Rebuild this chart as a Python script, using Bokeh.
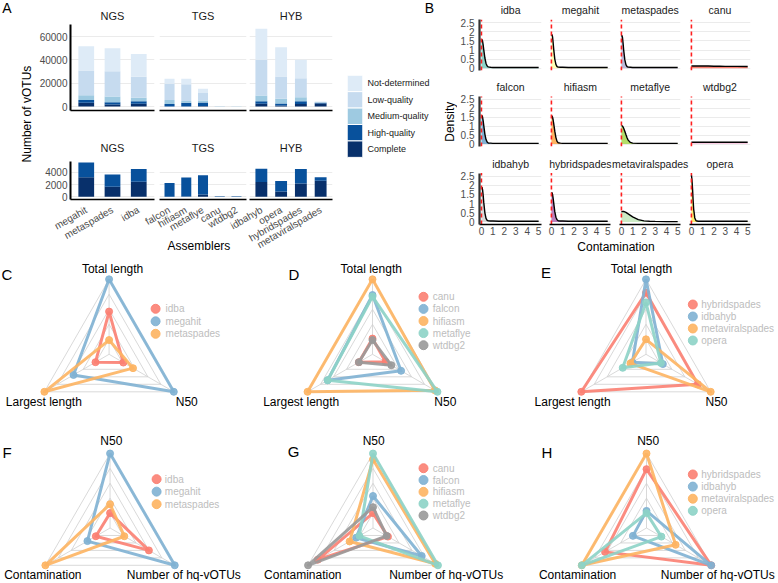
import math
from bokeh.plotting import figure
from bokeh.layouts import row, column
from bokeh.models import Range1d, LinearAxis, FixedTicker, ColumnDataSource, Grid
from bokeh.core.properties import value
from bokeh.embed import file_html
from bokeh.resources import INLINE

FONT = "Liberation Sans"

# ---------------- Panel A data ----------------
assemblers_A = ["megahit", "metaspades", "idba",
                "falcon", "hifiasm", "metaflye", "canu", "wtdbg2",
                "idbahyb", "opera", "hybridspades", "metaviralspades"]
groups_A = ["NGS"] * 3 + ["TGS"] * 5 + ["HYB"] * 4
group_order = ["NGS", "TGS", "HYB"]
complete = [3200, 1650, 2450, 30, 60, 370, 10, 10, 2400, 850, 2180, 2600]
high = [2400, 1970, 2080, 2210, 3080, 3150, 90, 90, 2180, 1710, 2350, 600]
medium = [4100, 4980, 2870, 3300, 1500, 1600, 60, 50, 4820, 4040, 3470, 400]
low = [21200, 21700, 18000, 14000, 14500, 6400, 200, 150, 30600, 19100, 16300, 300]
not_determined = [20800, 19700, 19700, 4200, 4560, 3600, 150, 100, 26600, 25100, 15700, 400]
quality_labels = ["Complete", "High-quality", "Medium-quality", "Low-quality", "Not-determined"]
quality_colors = ["#08306B", "#08519C", "#9ECAE1", "#C6DBEF", "#DEEBF7"]
ticks_A_top = [0, 20000, 40000, 60000]
ticks_A_bot = [0, 2000, 4000]

# ---------------- Panel B data ----------------
dens_x = [0, 0.05, 0.1, 0.15, 0.2, 0.3, 0.4, 0.5, 0.6, 0.8, 1.0, 1.5, 2.0, 2.5, 3.0, 4.0, 5.0]
dens_idba = [1.52, 1.58, 1.48, 1.28, 1.02, 0.56, 0.26, 0.12, 0.07, 0.05, 0.04, 0.04, 0.04, 0.04, 0.04, 0.04, 0.04]
dens_megahit = [1.78, 1.85, 1.72, 1.42, 1.06, 0.50, 0.21, 0.09, 0.06, 0.05, 0.05, 0.04, 0.04, 0.04, 0.04, 0.04, 0.04]
dens_metaspades = [1.74, 1.80, 1.66, 1.36, 1.00, 0.47, 0.20, 0.09, 0.06, 0.05, 0.04, 0.04, 0.04, 0.04, 0.04, 0.04, 0.04]
dens_canu = [0.12, 0.12, 0.12, 0.12, 0.12, 0.12, 0.12, 0.12, 0.12, 0.12, 0.12, 0.12, 0.11, 0.11, 0.10, 0.10, 0.09]
dens_falcon = [1.58, 1.60, 1.50, 1.30, 1.05, 0.56, 0.25, 0.11, 0.06, 0.05, 0.04, 0.04, 0.04, 0.04, 0.04, 0.04, 0.04]
dens_hifiasm = [1.52, 1.58, 1.50, 1.36, 1.16, 0.72, 0.36, 0.15, 0.07, 0.05, 0.04, 0.04, 0.04, 0.04, 0.04, 0.04, 0.04]
dens_metaflye = [1.02, 1.03, 1.00, 0.95, 0.88, 0.72, 0.53, 0.35, 0.22, 0.09, 0.05, 0.04, 0.04, 0.04, 0.04, 0.04, 0.04]
dens_wtdbg2 = [0.10, 0.10, 0.10, 0.10, 0.10, 0.10, 0.10, 0.10, 0.10, 0.10, 0.10, 0.10, 0.10, 0.10, 0.10, 0.10, 0.10]
dens_idbahyb = [1.84, 1.90, 1.75, 1.45, 1.08, 0.50, 0.20, 0.09, 0.06, 0.05, 0.05, 0.04, 0.04, 0.04, 0.04, 0.04, 0.04]
dens_hybridspades = [1.56, 1.60, 1.50, 1.30, 1.05, 0.56, 0.26, 0.12, 0.07, 0.05, 0.05, 0.04, 0.04, 0.04, 0.04, 0.04, 0.04]
dens_metaviralspades = [0.55, 0.56, 0.57, 0.57, 0.57, 0.55, 0.52, 0.48, 0.44, 0.36, 0.28, 0.13, 0.06, 0.04, 0.03, 0.02, 0.02]
dens_opera = [2.55, 2.30, 1.80, 1.20, 0.70, 0.22, 0.08, 0.05, 0.04, 0.04, 0.04, 0.04, 0.04, 0.04, 0.04, 0.04, 0.04]
B_assemblers = ["idba", "megahit", "metaspades", "canu", "falcon", "hifiasm", "metaflye", "wtdbg2",
                "idbahyb", "hybridspades", "metaviralspades", "opera"]
B_density = [dens_idba, dens_megahit, dens_metaspades, dens_canu, dens_falcon, dens_hifiasm,
             dens_metaflye, dens_wtdbg2, dens_idbahyb, dens_hybridspades, dens_metaviralspades, dens_opera]
B_fill = ["#8DD3C7", "#FFFFB3", "#BEBADA", "#FB8072", "#80B1D3", "#FDB462",
          "#B3DE69", "#FCCDE5", "#D9D9D9", "#BC80BD", "#CCEBC5", "#FFED6F"]
contam_threshold = 0.0
B_yticks = [0, 0.5, 1.0, 1.5, 2.0, 2.5]
B_xticks = [0, 1, 2, 3, 4, 5]

# ---------------- Radar data ----------------
len_axes = ["Total length", "N50", "Largest length"]
qual_axes = ["N50", "Number of hq-vOTUs", "Contamination"]
ngs_names = ["idba", "megahit", "metaspades"]
tgs_names = ["canu", "falcon", "hifiasm", "metaflye", "wtdbg2"]
hyb_names = ["hybridspades", "idbahyb", "metaviralspades", "opera"]
C_vals = [[0.57, 0.22, 0.21], [1.00, 1.00, 0.55], [0.19, 0.37, 1.00]]
D_vals = [[0.21, 0.20, 0.21], [0.79, 0.44, 0.69], [1.00, 0.96, 1.00], [0.77, 1.00, 0.69], [0.19, 0.29, 0.21]]
E_vals = [[0.82, 0.80, 1.00], [1.00, 0.26, 0.21], [0.20, 1.00, 0.24], [0.69, 0.23, 0.36]]
F_vals = [[0.20, 0.60, 0.22], [1.00, 1.00, 0.35], [0.32, 0.22, 1.00]]
G_vals = [[0.20, 0.23, 0.85], [0.43, 0.75, 0.26], [0.92, 0.96, 0.36], [1.00, 1.00, 0.21], [0.28, 0.21, 1.00]]
H_vals = [[0.79, 1.00, 0.64], [0.23, 1.00, 0.21], [1.00, 0.45, 1.00], [0.20, 0.23, 1.00]]
radar_colors = ["#FB8072", "#80B1D3", "#FDB462", "#8DD3C7", "#999999"]
grid_levels = [0.2, 0.4, 0.6, 0.8, 1.0]

# ---------------- layout helpers (reference pixel space -> page) ----------------
SX = 776 / 778
SY = 581 / 583


def W(a, b):
    return int(round(b * SX) - round(a * SX))


def H(a, b):
    return int(round(b * SY) - round(a * SY))


def mkfig(x0, x1, y0, y1, fx0, fx1, fy0, fy1, xr, yr):
    p = figure(width=W(x0, x1), height=H(y0, y1), x_range=xr, y_range=yr, title=None,
               output_backend="svg", toolbar_location=None,
               x_axis_location=None, y_axis_location=None,
               min_border_left=W(x0, fx0), min_border_right=W(fx1, x1),
               min_border_top=H(y0, fy0), min_border_bottom=H(fy1, y1))
    p.outline_line_color = None
    p.grid.visible = False
    p.background_fill_color = "white"
    p.border_fill_color = "white"
    return p


def strip(x0, x1, y0, y1):
    return mkfig(x0, x1, y0, y1, x0, x1, y0, y1, Range1d(x0, x1), Range1d(y1, y0))


def txt(p, x, y, s, size, color="#000000", align="center", baseline="middle", angle=0.0):
    p.text(x=[x], y=[y], text=[s], text_font=value(FONT), text_font_size=value(f"{size}px"),
           text_color=color, text_align=align, text_baseline=baseline, angle=angle)


def add_grid(p, ticks):
    p.add_layout(Grid(dimension=1, ticker=FixedTicker(ticks=ticks),
                      grid_line_color="#EBEBEB", grid_line_width=1), "center")


def left_axis(p, ticks, bounds, standoff=3, color="#000000", width=2):
    ax = LinearAxis(ticker=FixedTicker(ticks=ticks), bounds=bounds,
                    major_tick_out=0, major_tick_in=0, minor_tick_out=0, minor_tick_in=0,
                    major_label_standoff=standoff, major_label_text_font_size="10px",
                    major_label_text_color="#4D4D4D", major_label_text_font=FONT,
                    axis_line_color=color, axis_line_width=width)
    p.add_layout(ax, "left")


def bottom_line(p, width=1.6):
    ax = LinearAxis(ticker=FixedTicker(ticks=[]),
                    major_tick_out=0, major_tick_in=0, minor_tick_out=0, minor_tick_in=0,
                    major_label_standoff=0, major_label_text_font_size="0px",
                    axis_line_color="#000000", axis_line_width=width)
    p.add_layout(ax, "below")


# ---------------- Panel A ----------------
def ya_top(py):
    return (106.0 - py) * 60000 / 70.0


def ya_bot(py):
    return (197.3 - py) * 4000 / 25.0


A_geo = {"NGS": (33, 156, 70, 154), "TGS": (156, 248.5, 159, 247), "HYB": (248.5, 337, 250, 333.3)}
A_upper, A_lower = [], []
xlab = strip(33, 337, 204, 254)
for gi, g in enumerate(group_order):
    x0, x1, fx0, fx1 = A_geo[g]
    idx = [i for i, gg in enumerate(groups_A) if gg == g]
    n = len(idx)
    xs = list(range(1, n + 1))
    lo, hi = 0.4, n + 0.6
    data = dict(x=xs,
                c=[complete[i] for i in idx], h=[high[i] for i in idx], m=[medium[i] for i in idx],
                l=[low[i] for i in idx], nd=[not_determined[i] for i in idx])
    pu = mkfig(x0, x1, 0, 125, fx0, fx1, 5, 110, Range1d(lo, hi), Range1d(ya_top(110), ya_top(5)))
    add_grid(pu, ticks_A_top)
    pu.vbar_stack(["c", "h", "m", "l", "nd"], x="x", width=0.6, color=quality_colors,
                  source=ColumnDataSource(data), line_color=None)
    txt(pu, (lo + hi) / 2, ya_top(15), g, 11, "#1A1A1A")
    bottom_line(pu)
    if gi == 0:
        left_axis(pu, ticks_A_top, (ya_top(110), ya_top(24)))
    A_upper.append(pu)
    pl = mkfig(x0, x1, 125, 204, fx0, fx1, 140, 200, Range1d(lo, hi), Range1d(ya_bot(200), ya_bot(140)))
    add_grid(pl, ticks_A_bot)
    pl.vbar_stack(["c", "h"], x="x", width=0.6, color=quality_colors[:2],
                  source=ColumnDataSource(dict(x=xs, c=data["c"], h=data["h"])), line_color=None)
    txt(pl, (lo + hi) / 2, ya_bot(148), g, 11, "#1A1A1A")
    bottom_line(pl)
    if gi == 0:
        left_axis(pl, ticks_A_bot, (ya_bot(200), ya_bot(161)))
    A_lower.append(pl)
    ppu = (fx1 - fx0) / (hi - lo)
    for xv, i in zip(xs, idx):
        txt(xlab, fx0 + (xv - lo) * ppu, 209.5, assemblers_A[i], 10, "#4D4D4D",
            align="right", baseline="middle", angle=math.pi / 6)
txt(xlab, 199, 246, "Assemblers", 12)

A_left = strip(0, 33, 0, 254)
txt(A_left, 6.5, 8, "A", 14)
txt(A_left, 26, 114, "Number of vOTUs", 12, angle=math.pi / 2)

mid = strip(337, 458, 0, 254)
key_edges = [75, 91.5, 108, 124.5, 141, 157.5]
legend_order = list(range(len(quality_labels)))[::-1]
for j, qi in enumerate(legend_order):
    mid.quad(left=[347.7], right=[363.3], top=[key_edges[j]], bottom=[key_edges[j + 1]],
             fill_color=quality_colors[qi], line_color="white", line_width=1)
    txt(mid, 368, (key_edges[j] + key_edges[j + 1]) / 2, quality_labels[qi], 9, "#1A1A1A", align="left")
txt(mid, 430, 8, "B", 14)
txt(mid, 450.5, 121.7, "Density", 12, angle=math.pi / 2)
A_block = column(row(*A_upper), row(*A_lower), xlab)

# ---------------- Panel B ----------------
B_cols = [(458, 546, 480.5, 542), (546, 616, 550.5, 612), (616, 686, 620.5, 682), (686, 778, 690.5, 752)]
# (title strip top, facet top, facet bottom, frame bottom, zero px, title px)
B_rows = [(0, 17, 78, 70, 67.7, 9.3), (78, 94, 156, 147, 144.5, 86.7), (156, 172, 240, 224.5, 222.0, 164.3)]
B_ppu = 18.2
B_xr = (-0.17, 5.25)
B_parts = []
for r in range(3):
    ts, ft, fb_fig, fb, zero, ty = B_rows[r]
    tstrip = strip(458, 778, ts, ft)
    figs = []
    for c in range(4):
        k = r * 4 + c
        x0, x1, fx0, fx1 = B_cols[c]
        ybot = (zero - fb) / B_ppu
        ytop = (zero - ft) / B_ppu
        p = mkfig(x0, x1, ft, fb_fig, fx0, fx1, ft, fb, Range1d(*B_xr), Range1d(ybot, ytop))
        add_grid(p, B_yticks)
        p.varea(x=dens_x, y1=[0] * len(dens_x), y2=B_density[k], fill_color=B_fill[k], fill_alpha=1)
        p.line(dens_x, B_density[k], line_color="#000000", line_width=1.4)
        p.segment(x0=[contam_threshold], y0=[ybot], x1=[contam_threshold], y1=[2.66],
                  line_color="#FF1F1F", line_dash="4 3", line_width=1.6)
        txt(tstrip, (fx0 + fx1) / 2, ty, B_assemblers[k], 10.5, "#1A1A1A")
        if c == 0:
            left_axis(p, B_yticks, (ybot, 2.66), standoff=5, color="#333333", width=2.2)
        if r == 2:
            ax = LinearAxis(ticker=FixedTicker(ticks=B_xticks),
                            major_tick_out=0, major_tick_in=0, minor_tick_out=0, minor_tick_in=0,
                            major_label_standoff=2, major_label_text_font_size="10px",
                            major_label_text_color="#4D4D4D", major_label_text_font=FONT,
                            axis_line_color="#000000", axis_line_width=1.6)
            p.add_layout(ax, "below")
        figs.append(p)
    B_parts.append(tstrip)
    B_parts.append(row(*figs))
B_xlab = strip(458, 778, 240, 254)
txt(B_xlab, 617, 247, "Contamination", 12)
B_block = column(*B_parts, B_xlab)

top_band = row(A_left, A_block, mid, B_block)

# ---------------- Radars ----------------
R = 75.0
ANG = [math.pi / 2, -math.pi / 6, 7 * math.pi / 6]


def radar(box, center, letter, letter_xy, axes, label_xy, names, vals, legend):
    x0, x1, y0, y1 = box
    cx, cy = center

    def u(px):
        return (px - cx) / R

    def v(py):
        return (cy - py) / R

    p = mkfig(x0, x1, y0, y1, x0, x1, y0, y1, Range1d(u(x0), u(x1)), Range1d(v(y1), v(y0)))
    loop = ANG + [ANG[0]]
    p.multi_line([[lv * math.cos(a) for a in loop] for lv in grid_levels],
                 [[lv * math.sin(a) for a in loop] for lv in grid_levels],
                 line_color="#CFCFCF", line_width=0.8)
    p.multi_line([[0, math.cos(a)] for a in ANG], [[0, math.sin(a)] for a in ANG],
                 line_color="#CFCFCF", line_width=0.8)
    for k, vv in enumerate(vals):
        xs = [rv * math.cos(a) for rv, a in zip(vv, ANG)]
        ys = [rv * math.sin(a) for rv, a in zip(vv, ANG)]
        p.line(xs + [xs[0]], ys + [ys[0]], line_color=radar_colors[k], line_width=3,
               line_alpha=0.9, line_join="round")
        p.scatter(xs, ys, size=7, color=radar_colors[k], alpha=0.9)
    for t, (lx, ly) in zip(axes, label_xy):
        txt(p, u(lx), v(ly), t, 12)
    txt(p, u(letter_xy[0]), v(letter_xy[1]), letter, 15)
    dx, dy0, ddy, tx = legend
    for k, nm in enumerate(names):
        yy = v(dy0 + k * ddy)
        p.scatter([u(dx)], [yy], size=9, color=radar_colors[k], alpha=0.9)
        txt(p, u(tx), yy, nm, 10, "#BDBDBD", align="left")
    return p


pC = radar((0, 260, 254, 420), (109, 354.8), "C", (6.5, 275), len_axes,
           [(112.5, 269), (187, 402), (43.5, 402)], ngs_names, C_vals, (155.7, 309.3, 12.5, 165.7))
pD = radar((260, 520, 254, 420), (373, 354.8), "D", (294.5, 275), len_axes,
           [(371.7, 269), (445.8, 402), (301.7, 402)], tgs_names, D_vals, (424, 297.3, 12.1, 433.3))
pE = radar((520, 778, 254, 420), (647, 354.8), "E", (546.7, 273), len_axes,
           [(642.5, 269), (717.8, 402), (573.3, 402)], hyb_names, E_vals, (694, 305, 12.0, 702.5))
pF = radar((0, 260, 420, 583), (110, 529.2), "F", (6.5, 453), qual_axes,
           [(111.3, 442), (184, 576), (42.5, 576)], ngs_names, F_vals, (156.7, 480, 12.6, 165))
pG = radar((260, 520, 420, 583), (373.5, 529.2), "G", (294, 452.7), qual_axes,
           [(374.2, 442), (446.7, 576), (303.3, 576)], tgs_names, G_vals, (424, 469, 11.9, 433.3))
pH = radar((520, 778, 420, 583), (647.5, 529.2), "H", (547.5, 453), qual_axes,
           [(649.2, 442), (719, 576), (578.3, 576)], hyb_names, H_vals, (694, 475.3, 12.2, 702.5))

layout = column(top_band, row(pC, pD, pE), row(pF, pG, pH))

with open("out.html", "w") as f:
    f.write(file_html(layout, INLINE))
